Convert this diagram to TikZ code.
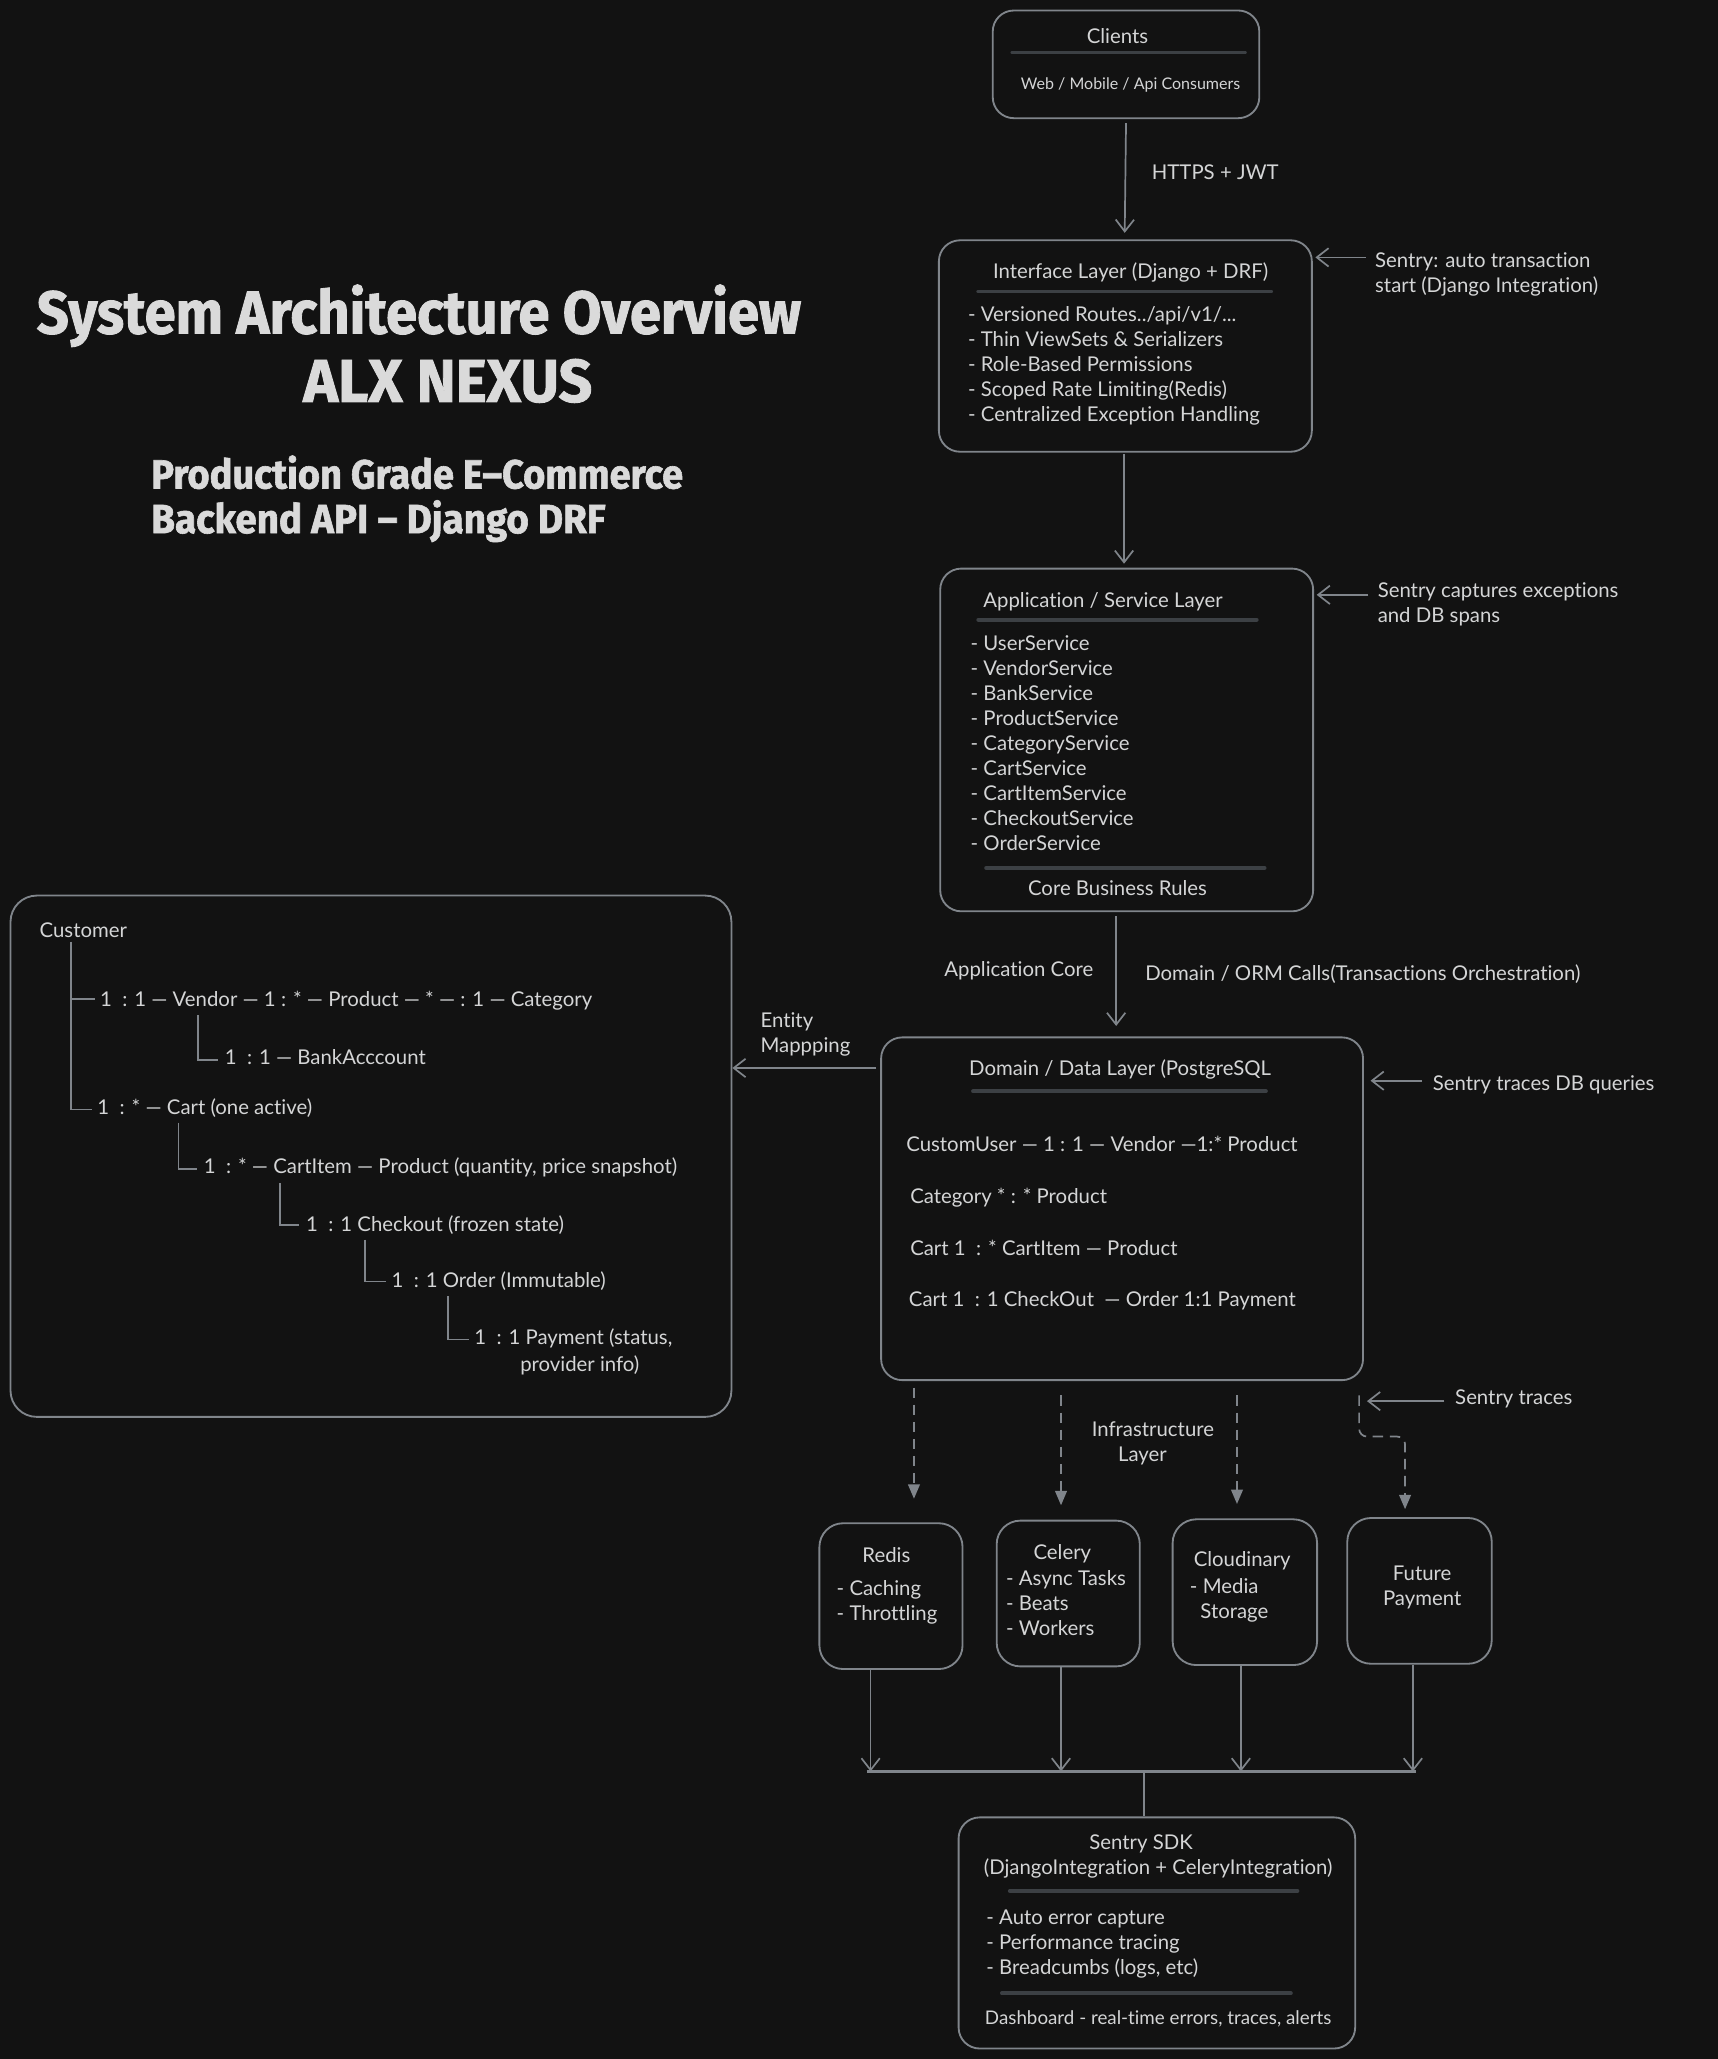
\documentclass[tikz,border=0pt]{standalone}
\usepackage{fontspec}
\usepackage{graphicx}
\setmainfont{Lato}[Ligatures=NoCommon]
\newfontfamily\titlefont[BoldFeatures={FakeBold=1.5}]{Fira Sans}
\usetikzlibrary{arrows.meta}
\definecolor{bgc}{HTML}{121212}
\definecolor{linec}{HTML}{80858B}
\definecolor{txtc}{HTML}{D4D5D6}
\definecolor{sepc}{HTML}{3C4044}
\definecolor{titc}{HTML}{DADADA}
\begin{document}
\begin{tikzpicture}[x=1pt,y=-1pt,
 box/.style={draw=linec, line width=1.4pt, rounded corners=16pt, fill=bgc, inner sep=0pt},
 lbl/.style={text=txtc, font=\fontsize{15.5}{19}\selectfont, inner sep=0pt, text height=14.5pt, text depth=3pt},
 lbll/.style={lbl, anchor=west},
 small/.style={lbl, font=\fontsize{12.2}{16}\selectfont, text height=13pt},
 ttl/.style={text=titc, inner sep=0pt, anchor=base},
 sep/.style={draw=sepc, line width=3pt, line cap=round},
 arr/.style={draw=linec, line width=1.3pt, -{Straight Barb[length=9pt,width=14pt]}},
 darr/.style={draw=linec, line width=1.3pt, dash pattern=on 8pt off 5pt, -{Triangle[length=11pt,width=9pt]}},
 tree/.style={draw=linec, line width=1.3pt},
]
\fill[bgc] (0,0) rectangle (1308,1568);
\useasboundingbox (0,0) rectangle (1308,1568);

% ---------- titles
\node[ttl, font=\titlefont\bfseries\fontsize{46}{50}\selectfont] (title1) at (319,254) {\resizebox{582pt}{\height}{System Architecture Overview}};
\node[ttl, font=\titlefont\bfseries\fontsize{46}{50}\selectfont] (title2) at (341,306) {\resizebox{220pt}{\height}{ALX NEXUS}};
\node[ttl, anchor=base west, font=\titlefont\bfseries\fontsize{31}{34}\selectfont] (sub1) at (115,372) {\resizebox{405pt}{\height}{Production Grade E–Commerce}};
\node[ttl, anchor=base west, font=\titlefont\bfseries\fontsize{31}{34}\selectfont] (sub2) at (115,406) {\resizebox{346pt}{\height}{Backend API – Django DRF}};

% ---------- boxes
\node[box, minimum width=203pt, minimum height=82pt] (clients) at (857.5,49) {};
\node[box, minimum width=284pt, minimum height=161pt] (interface) at (857,263.5) {};
\node[box, minimum width=284pt, minimum height=261pt] (app) at (858,563.5) {};
\node[box, minimum width=367pt, minimum height=261pt] (domain) at (854.5,920.5) {};
\node[box, rounded corners=20pt, minimum width=549pt, minimum height=397pt] (customer) at (282.5,880.5) {};
\node[box, rounded corners=18pt, minimum width=109pt, minimum height=111pt] (redis) at (678.5,1215.5) {};
\node[box, rounded corners=18pt, minimum width=109pt, minimum height=111pt] (celery) at (813.5,1213.5) {};
\node[box, rounded corners=18pt, minimum width=110pt, minimum height=111pt] (cloud) at (948,1212.5) {};
\node[box, rounded corners=18pt, minimum width=110pt, minimum height=111pt] (future) at (1081,1211.5) {};
\node[box, minimum width=302pt, minimum height=176pt] (sdk) at (881,1472) {};

% ---------- clients
\node[lbl] (clT) at (851,27) {Clients};
\draw[sep] (771,40) -- (948,40);
\node[small] (clS) at (861,63) {Web / Mobile / Api Consumers};

% ---------- interface
\node[lbl] (ifT) at (861,206) {Interface Layer (Django + DRF)};
\draw[sep] (745,222) -- (968,222);
\node[lbll] (if1) at (737,239) {- Versioned Routes../api/v1/...};
\node[lbll] (if2) at (737,258) {- Thin ViewSets \& Serializers};
\node[lbll] (if3) at (737,277) {- Role-Based Permissions};
\node[lbll] (if4) at (737,296) {- Scoped Rate Limiting(Redis)};
\node[lbll] (if5) at (737,315) {- Centralized Exception Handling};

% ---------- application
\node[lbl] (apT) at (840,457) {Application / Service Layer};
\draw[sep] (745,472) -- (957,472);
\node[lbll] (ap1) at (739,490) {- UserService};
\node[lbll] (ap2) at (739,509) {- VendorService};
\node[lbll] (ap3) at (739,528) {- BankService};
\node[lbll] (ap4) at (739,547) {- ProductService};
\node[lbll] (ap5) at (739,566) {- CategoryService};
\node[lbll] (ap6) at (739,585) {- CartService};
\node[lbll] (ap7) at (739,604) {- CartItemService};
\node[lbll] (ap8) at (739,623) {- CheckoutService};
\node[lbll] (ap9) at (739,642) {- OrderService};
\draw[sep] (751,661) -- (963,661);
\node[lbl] (apB) at (851,676) {Core Business Rules};

% ---------- domain
\node[lbl] (doT) at (853,813) {Domain / Data Layer (PostgreSQL};
\draw[sep] (741,831) -- (964,831);
\node[lbll] (do1) at (690,871) {CustomUser — 1 : 1 — Vendor —1:* Product};
\node[lbll] (do2) at (693,911) {Category * : * Product};
\node[lbll] (do3) at (693,950) {Cart 1 \ : * CartItem — Product};
\node[lbll] (do4) at (692,989) {Cart 1 \ : 1 CheckOut \ — Order 1:1 Payment};

% ---------- customer tree
\node[lbll] (cu0) at (30,708) {Customer};
\draw[tree] (54,717) -- (54,845) -- (70,845);
\draw[tree] (54,761) -- (72,761);
\node[lbll] (cu1) at (76,761) {1 \ : 1 — Vendor — 1 : * — Product — * — : 1 — Category};
\draw[tree] (151,773) -- (151,807) -- (166,807);
\node[lbll] (cu2) at (171,805) {1 \ : 1 — BankAcccount};
\node[lbll] (cu3) at (74,843) {1 \ : * — Cart (one active)};
\draw[tree] (136,855) -- (136,890) -- (150,890);
\node[lbll] (cu4) at (155,888) {1 \ : * — CartItem — Product (quantity, price snapshot)};
\draw[tree] (213,901) -- (213,933) -- (228,933);
\node[lbll] (cu5) at (233,932) {1 \ : 1 Checkout (frozen state)};
\draw[tree] (278,944) -- (278,976) -- (294,976);
\node[lbll] (cu6) at (298,975) {1 \ : 1 Order (Immutable)};
\draw[tree] (341,987) -- (341,1020) -- (357,1020);
\node[lbll] (cu7) at (361,1018) {1 \ : 1 Payment (status,};
\node[lbll] (cu8) at (396,1039) {provider info)};

% ---------- infrastructure boxes
\node[lbl] (reT) at (675,1184) {Redis};
\node[lbll] (re1) at (637,1209) {- Caching};
\node[lbll] (re2) at (637,1228) {- Throttling};
\node[lbl] (ceT) at (809,1182) {Celery};
\node[lbll] (ce1) at (766,1202) {- Async Tasks};
\node[lbll] (ce2) at (766,1221) {- Beats};
\node[lbll] (ce3) at (766,1240) {- Workers};
\node[lbl] (coT) at (946,1187) {Cloudinary};
\node[lbll] (co1) at (906,1208) {- Media};
\node[lbll] (co2) at (914,1227) {Storage};
\node[lbl] (fuT) at (1083,1198) {Future};
\node[lbl] (fu2) at (1083,1217) {Payment};

% ---------- sentry sdk
\node[lbl] (sdT) at (869,1403) {Sentry SDK};
\node[lbl] (sdT2) at (882,1422) {(DjangoIntegration + CeleryIntegration)};
\draw[sep] (769,1440) -- (988,1440);
\node[lbll] (sd1) at (751,1460) {- Auto error capture};
\node[lbll] (sd2) at (751,1479) {- Performance tracing};
\node[lbll] (sd3) at (751,1498) {- Breadcumbs (logs, etc)};
\draw[sep] (763,1518) -- (983,1518);
\node[lbl, font=\fontsize{14.3}{18}\selectfont] (sdB) at (882,1536) {Dashboard - real-time errors, traces, alerts};

% ---------- free labels
\node[lbll] (https) at (877,131) {HTTPS + JWT};
\node[lbll] (s1a) at (1047,198) {Sentry: auto transaction};
\node[lbll] (s1b) at (1047,217) {start (Django Integration)};
\node[lbll] (s2a) at (1049,449) {Sentry captures exceptions};
\node[lbll] (s2b) at (1049,468) {and DB spans};
\node[lbll] (appcore) at (719,738) {Application Core};
\node[lbll] (orm) at (872,741) {Domain / ORM Calls(Transactions Orchestration)};
\node[lbll] (ent1) at (579,777) {Entity};
\node[lbll] (ent2) at (579,796) {Mappping};
\node[lbll] (s3) at (1091,825) {Sentry traces DB queries};
\node[lbl] (inf1) at (878,1088) {Infrastructure};
\node[lbl] (inf2) at (870,1107) {Layer};
\node[lbll] (s4) at (1108,1064) {Sentry traces};

% ---------- main connectors
\draw[arr] ([yshift=-3pt]clients.south) -- ([xshift=-0.5pt,yshift=5pt]interface.north);
\draw[arr] ([xshift=-1pt,yshift=-1pt]interface.south) -- ([xshift=-2pt,yshift=3pt]app.north);
\draw[arr] ([xshift=-8pt,yshift=-3pt]app.south) -- ([xshift=-4.5pt,yshift=8pt]domain.north);
\draw[arr] ([xshift=-3pt,yshift=-24pt]domain.north west) -- ([yshift=-132pt]customer.north east);

% sentry pointers
\draw[arr] ([xshift=-7pt,yshift=2pt]s1a.west) -- ([xshift=2pt,yshift=2pt]interface.east |- s1a.west);
\draw[arr] ([xshift=-7pt,yshift=-4pt]s2a.west) -- ([xshift=2pt,yshift=-4pt]app.east |- s2a.west);
\draw[arr] ([xshift=-8pt,yshift=2pt]s3.west) -- ([xshift=5pt,yshift=2pt]domain.east |- s3.west);
\coordinate (s4end) at (1041,1067);
\draw[arr] ([xshift=-8pt,yshift=-3pt]s4.west) -- (s4end);

% dashed infrastructure arrows
\draw[darr] ([xshift=-158.5pt,yshift=-5pt]domain.south) -- ([xshift=17.5pt,yshift=18pt]redis.north);
\draw[darr] ([xshift=-46.5pt,yshift=-11pt]domain.south) -- ([xshift=-5.5pt,yshift=11pt]celery.north);
\draw[darr] ([xshift=87.5pt,yshift=-11pt]domain.south) -- ([xshift=-6pt,yshift=11pt]cloud.north);
\draw[darr, rounded corners=6pt] ([xshift=180.5pt,yshift=-11pt]domain.south) -- (1035,1094) -- (1070,1094) -- ([xshift=-11pt,yshift=6pt]future.north);

% bus to sentry
\coordinate (busL) at (660,1349);
\coordinate (busR) at (1078,1349);
\coordinate (busM) at (871,1349);
\draw[arr] ([xshift=-15.5pt]redis.south) -- ([xshift=-15.5pt]busL -| redis.south);
\draw[arr] ([xshift=-5.5pt]celery.south) -- ([xshift=-5.5pt]busL -| celery.south);
\draw[arr] ([xshift=-3pt]cloud.south) -- ([xshift=-3pt]busL -| cloud.south);
\draw[arr] ([xshift=-5pt]future.south) -- ([xshift=-5pt]busL -| future.south);
\draw[draw=linec, line width=2.4pt] (busL) -- (busR);
\draw[tree] (busM) -- ([xshift=-10pt]sdk.north);
\end{tikzpicture}
\end{document}
